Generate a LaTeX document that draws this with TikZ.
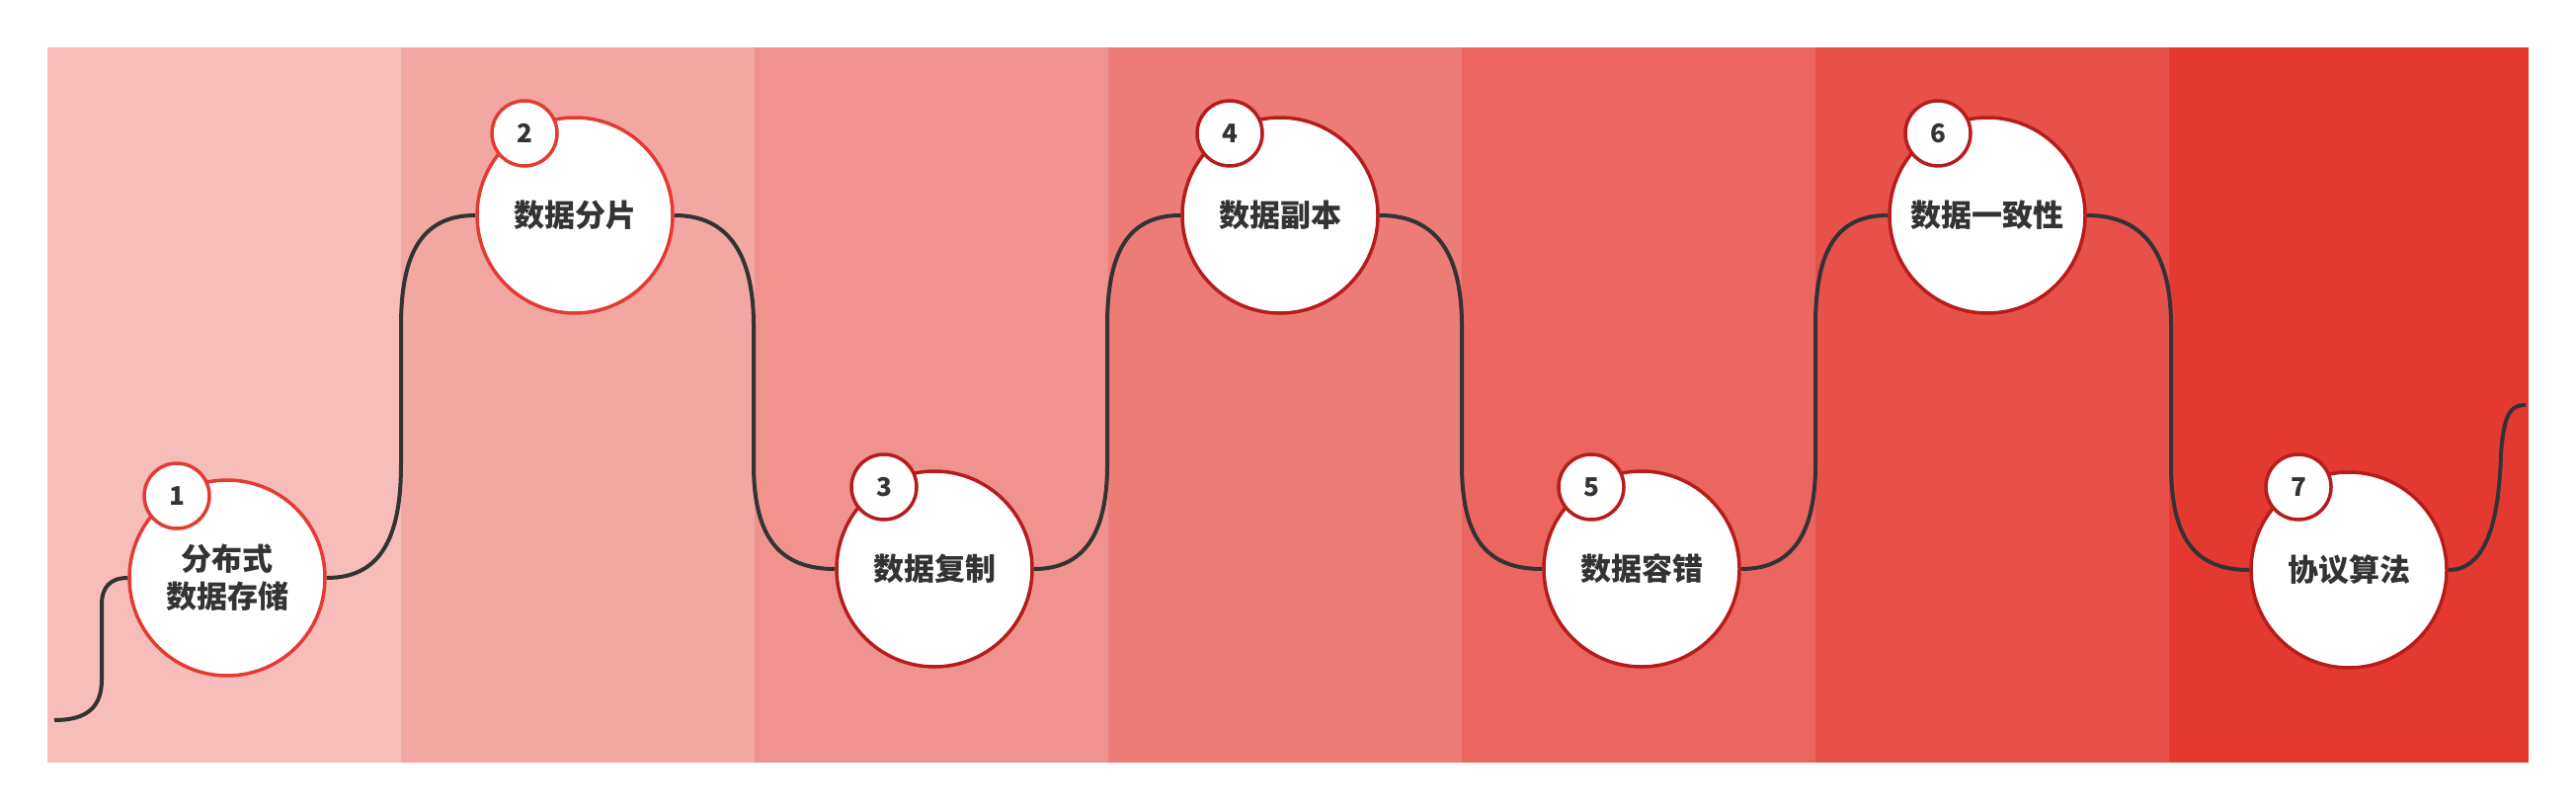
\documentclass[tikz,border=0pt]{standalone}
\usepackage{fontspec}
\setmainfont{Noto Sans CJK SC}
\definecolor{b1}{HTML}{F6BDBB}
\definecolor{b2}{HTML}{F2A7A3}
\definecolor{b3}{HTML}{F0938E}
\definecolor{b4}{HTML}{ED7B76}
\definecolor{b5}{HTML}{EB665F}
\definecolor{b6}{HTML}{E8504A}
\definecolor{b7}{HTML}{E33931}
\definecolor{brt}{HTML}{E53A31}
\definecolor{drk}{HTML}{B71C1C}
\definecolor{txt}{HTML}{333333}
\definecolor{wire}{HTML}{333333}
\begin{document}
\begin{tikzpicture}[x=1pt,y=-1pt,
  big/.style={circle,fill=white,draw=#1,line width=3.5pt,minimum size=198pt,inner sep=0pt,align=center,text=txt,font=\fontsize{31}{38}\selectfont\bfseries},
  num/.style={circle,fill=white,draw=#1,line width=3.5pt,minimum size=66pt,inner sep=0pt,text=txt,font=\fontsize{26}{30}\selectfont\bfseries},
  conn/.style={draw=wire,line width=4pt}]
\useasboundingbox (0,0) rectangle (2608,820);
% bands
\fill[b1] (48,48) rectangle (406,772);
\fill[b2] (406,48) rectangle (764,772);
\fill[b3] (764,48) rectangle (1122,772);
\fill[b4] (1122,48) rectangle (1480,772);
\fill[b5] (1480,48) rectangle (1838,772);
\fill[b6] (1838,48) rectangle (2196,772);
\fill[b7] (2196,48) rectangle (2560,772);
% nodes
\node[big=brt] (n1) at (230,585) {分布式\\数据存储};
\node[num=brt] (m1) at (179,502) {1};
\node[big=brt] (n2) at (582,218) {数据分片};
\node[num=brt] (m2) at (531,135) {2};
\node[big=drk] (n3) at (946,576) {数据复制};
\node[num=drk] (m3) at (895,493) {3};
\node[big=drk] (n4) at (1296,218) {数据副本};
\node[num=drk] (m4) at (1245,135) {4};
\node[big=drk] (n5) at (1662,576) {数据容错};
\node[num=drk] (m5) at (1611,493) {5};
\node[big=drk] (n6) at (2012,218) {数据一致性};
\node[num=drk] (m6) at (1962,135) {6};
\node[big=drk] (n7) at (2378,577) {协议算法};
\node[num=drk] (m7) at (2327,493) {7};
\coordinate (s) at (55,729);
\coordinate (e) at (2557,410);
% connectors
\draw[conn] (s) .. controls (88,729) and (103,716) .. (103,688) -- (103,612) .. controls (103,594) and (112,585) .. (n1.west);
\draw[conn] (n1.east) .. controls (385,585) and (406,545) .. (406,470) -- (406,330) .. controls (406,255) and (428,218) .. (n2.west);
\draw[conn] (n2.east) .. controls (738,218) and (763,258) .. (763,330) -- (763,470) .. controls (763,545) and (790,576) .. (n3.west);
\draw[conn] (n3.east) .. controls (1098,576) and (1121,540) .. (1121,470) -- (1121,330) .. controls (1121,255) and (1142,218) .. (n4.west);
\draw[conn] (n4.east) .. controls (1455,218) and (1480,258) .. (1480,330) -- (1480,470) .. controls (1480,545) and (1505,576) .. (n5.west);
\draw[conn] (n5.east) .. controls (1815,576) and (1838,540) .. (1838,470) -- (1838,330) .. controls (1838,255) and (1858,218) .. (n6.west);
\draw[conn] (n6.east) .. controls (2172,218) and (2198,258) .. (2198,330) -- (2198,470) .. controls (2198,545) and (2222,577) .. (n7.west);
\draw[conn] (n7.east) .. controls (2518,577) and (2530,525) .. (2532,460) .. controls (2535,418) and (2542,410) .. (e);
\end{tikzpicture}
\end{document}
